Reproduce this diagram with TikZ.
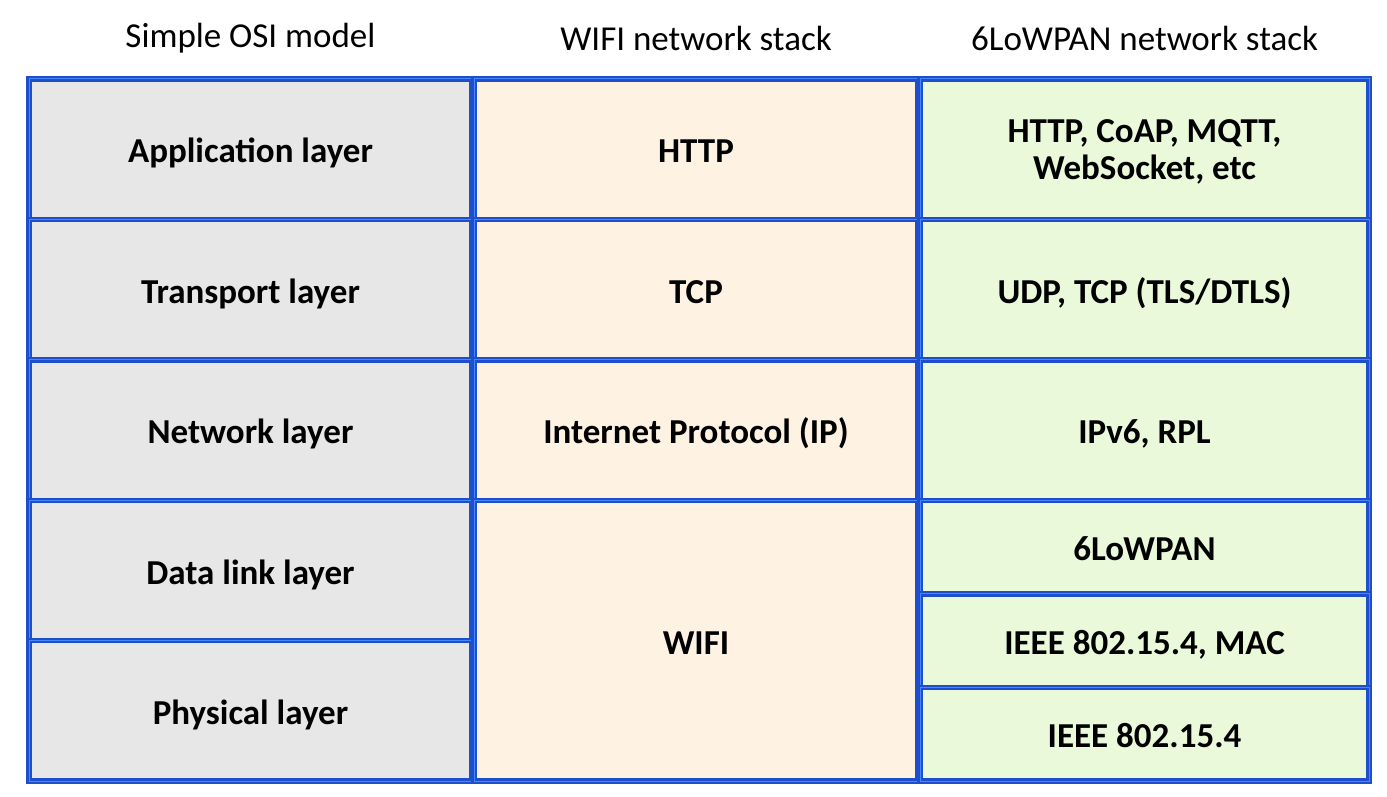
\documentclass[tikz,border=0pt]{standalone}
\usepackage{fontspec}
\setmainfont{Carlito}
\definecolor{osigray}{RGB}{231,231,231}
\definecolor{wifipeach}{RGB}{254,243,226}
\definecolor{lowgreen}{RGB}{235,249,219}
\definecolor{edgeblue}{RGB}{28,78,205}
\definecolor{edgelight}{RGB}{72,135,245}

\begin{document}
\begin{tikzpicture}[x=0.5pt,y=-0.5pt,
    cell/.style={draw=edgeblue,double=edgelight,double distance=0.5pt,line width=1.1pt,
      inner sep=0pt,align=center,text height=16.7pt,text depth=3pt,
      font=\fontsize{17.5}{18.5}\selectfont\bfseries},
    osicell/.style={cell,fill=osigray,minimum width=221.5pt,minimum height=70.2pt},
    wificell/.style={cell,fill=wifipeach,minimum width=222pt,minimum height=70.2pt},
    lowcell/.style={cell,fill=lowgreen,minimum width=224.5pt,minimum height=70.2pt},
    lowsmall/.style={lowcell,minimum height=46.8pt},
    head/.style={font=\fontsize{17.5}{21}\selectfont}]
      \useasboundingbox (0,0) rectangle (1387,797);
      \node[head] (hosi) at (250.5,38) {Simple OSI model};
      \node[head] (hwifi) at (696,38) {WIFI network stack};
      \node[head] (hlow) at (1144.5,38) {6LoWPAN network stack};
      % simple OSI model
      \node[osicell] (app) at (250.5,149.2) {Application layer};
      \node[osicell] (trans) at (250.5,289.6) {Transport layer};
      \node[osicell] (net) at (250.5,430) {Network layer};
      \node[osicell] (link) at (250.5,570.4) {Data link layer};
      \node[osicell] (phys) at (250.5,710.8) {Physical layer};
      % WIFI network stack
      \node[wificell] (http) at (696,149.2) {HTTP};
      \node[wificell] (tcp) at (696,289.6) {TCP};
      \node[wificell] (ip) at (696,430) {Internet Protocol (IP)};
      \node[wificell,minimum height=140.4pt] (wifi) at (696,640.6) {WIFI};
      % 6LoWPAN network stack
      \node[lowcell,text height=,text depth=] (coap) at (1144.5,149.2)
        {\rule{0pt}{14.5pt}HTTP, CoAP, MQTT,\\WebSocket, etc};
      \node[lowcell] (udp) at (1144.5,289.6) {UDP, TCP (TLS/DTLS)};
      \node[lowcell] (ipv6) at (1144.5,430) {IPv6, RPL};
      \node[lowsmall] (sixlo) at (1144.5,547) {6LoWPAN};
      \node[lowsmall] (mac) at (1144.5,640.6) {IEEE 802.15.4, MAC};
      \node[lowsmall] (phy) at (1144.5,734.2) {IEEE 802.15.4};
    \end{tikzpicture}
\end{document}
